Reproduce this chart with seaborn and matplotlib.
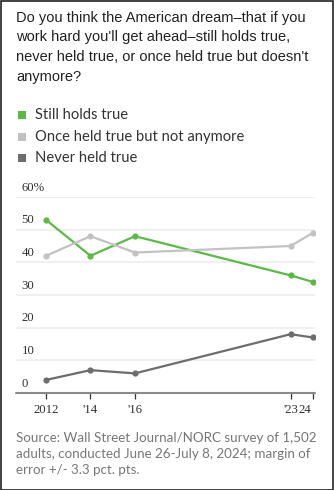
import matplotlib
matplotlib.use("Agg")
import matplotlib.pyplot as plt
import matplotlib.transforms as mtransforms
import seaborn as sns
import pandas as pd
from matplotlib.patches import Rectangle

years = [2012, 2014, 2016, 2023, 2024]
year_labels = ["2012", "'14", "'16", "'23", "24"]
still_holds = [53, 42, 48, 36, 34]
once_held = [42, 48, 43, 45, 49]
never_held = [4, 7, 6, 18, 17]
series_names = ["Still holds true", "Once held true but not anymore", "Never held true"]
colors = ["#5cb947", "#c2c2c2", "#6d6d6d"]
y_ticks = [0, 10, 20, 30, 40, 50, 60]
y_tick_labels = ["0", "10", "20", "30", "40", "50", "60%"]

title = ("Do you think the American dream\u2013that if you\n"
         "work hard you'll get ahead\u2013still holds true,\n"
         "never held true, or once held true but doesn't\n"
         "anymore?")
source = ("Source: Wall Street Journal/NORC survey of 1,502\n"
          "adults, conducted June 26-July 8, 2024; margin of\n"
          "error +/- 3.3 pct. pts.")

df = pd.DataFrame({
    "year": years * 3,
    "value": still_holds + once_held + never_held,
    "series": [series_names[0]] * 5 + [series_names[1]] * 5 + [series_names[2]] * 5,
})

sns.set_theme(style="white")
W, H = 334, 490
fig = plt.figure(figsize=(W / 100, H / 100), dpi=100)
fig.patch.set_facecolor("white")

def fx(px):
    return px / W

def fy(py):
    return 1 - py / H

ax = fig.add_axes([fx(16), fy(393), fx(315) - fx(16), fy(197) - fy(393)])
sns.lineplot(data=df, x="year", y="value", hue="series", hue_order=series_names,
             palette=colors, marker="o", markersize=4.5, markeredgewidth=0,
             linewidth=1.6, legend=False, ax=ax, zorder=3)
ax.set_xlim(2010.65, 2024.1)
ax.set_ylim(0, 60)
ax.set_xlabel("")
ax.set_ylabel("")
for s in ax.spines.values():
    s.set_visible(False)
ax.set_yticks(y_ticks)
ax.set_yticklabels([])
ax.tick_params(axis="y", length=0)
for t in y_ticks[1:]:
    ax.axhline(t, color="#ededed", linewidth=1.2, zorder=1)
ax.axhline(0, color="#8a8a8a", linewidth=1.5, zorder=2, clip_on=False)
for t, lab in zip(y_ticks, y_tick_labels):
    ax.annotate(lab, xy=(0, t), xycoords=("axes fraction", "data"),
                xytext=(4, 2.5), textcoords="offset points", ha="left", va="bottom",
                fontsize=9.2, family="Liberation Serif", color="#333333")
ax.set_xticks(years)
ax.set_xticklabels(year_labels, family="Liberation Serif", fontsize=9.2, color="#333333")
ax.tick_params(axis="x", length=4, width=0.9, color="#333333", pad=4, direction="out",
               bottom=True)
labs = ax.get_xticklabels()
labs[-1].set_horizontalalignment("right")
labs[-1].set_transform(labs[-1].get_transform() +
                       mtransforms.ScaledTranslation(-2 / 100, 0, fig.dpi_scale_trans))
ax.grid(False)

fig.text(fx(16), fy(11), title, ha="left", va="top", fontsize=10.5,
         family="Liberation Sans", color="#222222", linespacing=1.5)

leg_y = [115, 137, 158]
for name, c, yy in zip(series_names, colors, leg_y):
    fig.patches.append(Rectangle((fx(18), fy(yy + 4)), fx(8), 8 / H, transform=fig.transFigure,
                                 facecolor=c, edgecolor="none"))
    fig.text(fx(35), fy(yy), name, ha="left", va="center", fontsize=10.6,
             family="Lato", color="#333333")

fig.text(fx(16), fy(432), source, ha="left", va="top", fontsize=9.6,
         family="Lato", color="#777777", linespacing=1.4)

fig.patches.append(Rectangle((0.5 / W, 0.5 / H), 1 - 2 / W, 1 - 2 / H, transform=fig.transFigure,
                             facecolor="none", edgecolor="#222222", linewidth=1.2))

fig.savefig("out.png", dpi=100, facecolor="white")
